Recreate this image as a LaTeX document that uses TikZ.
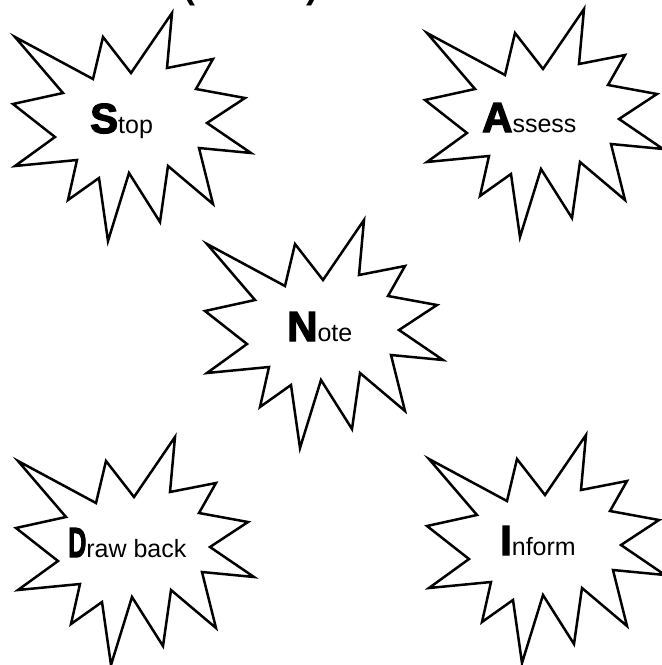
\documentclass[tikz,border=0pt]{standalone}
\usepackage{fontspec}
\setmainfont{Liberation Sans}
\newfontfamily\heavyfont{Liberation Sans}[UprightFont={* Bold},FakeBold=3]
\begin{document}
\begin{tikzpicture}[x=1pt,y=-1pt,
  burst/.style={draw=black,line width=2.5pt,fill=white},
  lbl/.style={anchor=base west,inner sep=0pt,font=\fontsize{25}{28}\selectfont}]
\useasboundingbox (0,0) rectangle (662,665);
\tikzset{starpic/.pic={
  \draw[burst] (15,37)--(93,79)--(103,37)--(131,73)--(172,13)--(167,68)--(213,59)--(196,89)
    --(245,98)--(207,123)--(251,153)--(199,148)--(213,204)--(168,166)--(160,222)--(129,173)
    --(108,241)--(99,178)--(68,200)--(77,160)--(15,166)--(55,137)--(13,104)--(63,93)--cycle;
}}
\newcommand{\BigInit}[1]{{\heavyfont\fontsize{42}{44}\selectfont #1}}
% title, cut off by the page edge
\node[anchor=base,inner sep=0pt,font=\bfseries\fontsize{36}{40}\selectfont] (title) at (251,-2) {(SANDI)};
\pic at (0,0) {starpic};
\pic at (412,-4) {starpic};
\pic at (192,207) {starpic};
\pic at (3,424) {starpic};
\pic at (414,422) {starpic};
\node[lbl] (stop) at (90,133) {\BigInit{S}top};
\node[lbl] (assess) at (482,132) {\BigInit{A}ssess};
\node[lbl] (note) at (287,341) {\BigInit{N}ote};
\node[lbl] (draw) at (68,557) {\BigInit{\scalebox{0.6}[1]{D}}raw back};
\node[lbl] (inform) at (500,555) {\BigInit{I}nform};
\end{tikzpicture}
\end{document}
